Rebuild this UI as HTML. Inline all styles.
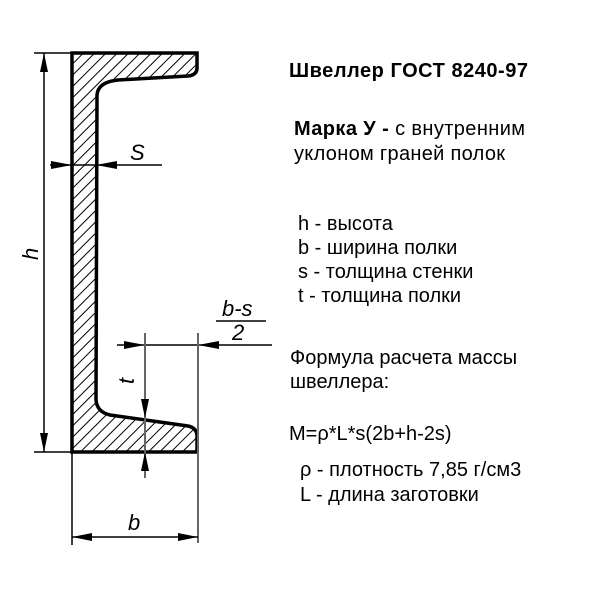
<!DOCTYPE html>
<html><head><meta charset="utf-8"><style>
html,body{margin:0;padding:0;background:#fff;width:600px;height:600px;overflow:hidden}
svg{display:block}
text{font-family:"Liberation Sans",sans-serif;font-size:20px;fill:#000}
.it{font-style:italic;font-size:22px}
</style></head><body>
<svg width="600" height="600" viewBox="0 0 600 600">
<defs>
<pattern id="h" patternUnits="userSpaceOnUse" width="8" height="8" patternTransform="rotate(45)">
<line x1="0" y1="0" x2="0" y2="8" stroke="#000" stroke-width="2"/>
</pattern>
<clipPath id="c"><path d="M72,53 L197,53 L197,68 Q197,75 188,76 L118,80 Q98,82 97,95 L96,400 Q97,412 110,415 L188,426 Q197,428 197,436 L197,452 L72,452 Z"/></clipPath>
</defs>
<rect x="60" y="40" width="150" height="420" fill="url(#h)" clip-path="url(#c)"/>
<path d="M72,53 L197,53 L197,68 Q197,75 188,76 L118,80 Q98,82 97,95 L96,400 Q97,412 110,415 L188,426 Q197,428 197,436 L197,452 L72,452 Z" fill="none" stroke="#000" stroke-width="3.5"/>
<g stroke="#000" stroke-width="1.5" fill="none">
<line x1="34" y1="53" x2="72" y2="53"/>
<line x1="34" y1="452" x2="72" y2="452"/>
<line x1="44" y1="53" x2="44" y2="452"/>
<line x1="50" y1="165" x2="162" y2="165"/>
<line x1="117" y1="345" x2="272" y2="345"/>
<line x1="145" y1="333" x2="145" y2="478" stroke="#666" stroke-width="2"/>
<line x1="198" y1="333" x2="198" y2="543" stroke="#666" stroke-width="2"/>
<line x1="72" y1="452" x2="72" y2="545"/>
<line x1="72" y1="537" x2="198" y2="537"/>
<line x1="216" y1="321" x2="266" y2="321"/>
</g>
<g fill="#000">
<polygon points="44,53 40,72 48,72"/>
<polygon points="44,452 40,433 48,433"/>
<polygon points="72,165 51,161 51,169"/>
<polygon points="96,165 117,161 117,169"/>
<polygon points="145,345 124,341 124,349"/>
<polygon points="198,345 219,341 219,349"/>
<polygon points="145,418 141,399 149,399"/>
<polygon points="145,452 141,471 149,471"/>
<polygon points="72,537 92,533 92,541"/>
<polygon points="198,537 178,533 178,541"/>
</g>
<text class="it" x="130" y="160">S</text>
<text class="it" x="0" y="0" transform="translate(38,260) rotate(-90)">h</text>
<text class="it" x="0" y="0" transform="translate(134,384) rotate(-90)">t</text>
<text class="it" x="128" y="530">b</text>
<text class="it" x="222" y="316">b-s</text>
<text class="it" x="232" y="340">2</text>
<text x="289" y="77" font-weight="bold" textLength="239">Швеллер ГОСТ 8240-97</text>
<text x="294" y="135" textLength="231"><tspan font-weight="bold">Марка У -</tspan> с внутренним</text>
<text x="294" y="160" textLength="211">уклоном граней полок</text>
<text x="298" y="230">h - высота</text>
<text x="298" y="254">b - ширина полки</text>
<text x="298" y="278">s - толщина стенки</text>
<text x="298" y="302">t - толщина полки</text>
<text x="290" y="364">Формула расчета массы</text>
<text x="290" y="388">швеллера:</text>
<text x="289" y="440">M=ρ*L*s(2b+h-2s)</text>
<text x="300" y="476">ρ - плотность 7,85 г/см3</text>
<text x="300" y="501">L - длина заготовки</text>
</svg>
</body></html>
